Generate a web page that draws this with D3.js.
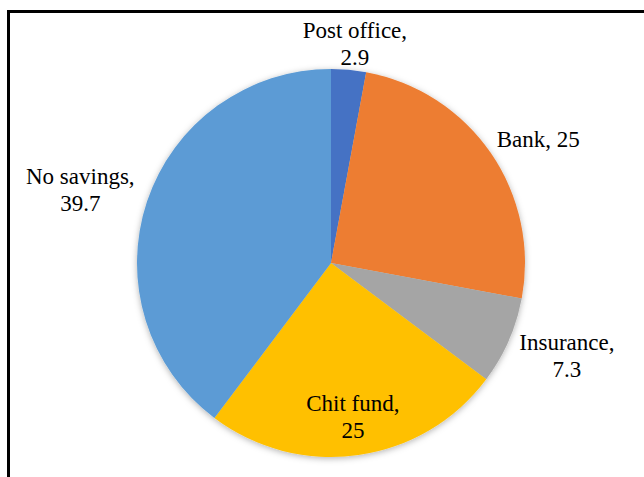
<!DOCTYPE html>
<html>
<head>
<meta charset="utf-8">
<script src="https://cdn.jsdelivr.net/npm/d3@7"></script>
<style>
  html, body { margin: 0; padding: 0; background: #fff; }
  svg { display: block; }
</style>
</head>
<body>
<svg id="chart" width="644" height="477"></svg>
<script>
// Savings channels (percent of households)
const categories = ["Post office", "Bank", "Insurance", "Chit fund", "No savings"];
const values = [2.9, 25, 7.3, 25, 39.7];
const valueLabels = ["2.9", "25", "7.3", "25", "39.7"];
const colors = ["#4472C4", "#ED7D31", "#A5A5A5", "#FFC000", "#5B9BD5"];

// Label placement choices
const insideLabels = new Set(["Chit fund"]);
const singleLineLabels = new Set(["Bank"]);

const W = 644, H = 477;
const cx = 331, cy = 263, R = 194;
const fontSize = 23, lineGap = 27, capH = 15;

const svg = d3.select("#chart");

// Frame: left and top rules
svg.append("path")
  .attr("d", `M8.5,${H} V11.5 H${W}`)
  .attr("fill", "none")
  .attr("stroke", "#000")
  .attr("stroke-width", 3);

// Soft shadow under the pie
const defs = svg.append("defs");
const f = defs.append("filter").attr("id", "pieShadow")
  .attr("x", "-10%").attr("y", "-10%").attr("width", "120%").attr("height", "120%");
f.append("feDropShadow")
  .attr("dx", 0).attr("dy", 1.5)
  .attr("stdDeviation", 3)
  .attr("flood-color", "#000")
  .attr("flood-opacity", 0.3);

const data = categories.map((c, i) => ({ name: c, value: values[i], label: valueLabels[i], color: colors[i] }));

const pie = d3.pie().value(d => d.value).sort(null);
const arcs = pie(data);
const arc = d3.arc().innerRadius(0).outerRadius(R);

const g = svg.append("g").attr("transform", `translate(${cx},${cy})`);

g.append("g").attr("filter", "url(#pieShadow)")
  .selectAll("path")
  .data(arcs)
  .join("path")
  .attr("d", arc)
  .attr("fill", d => d.data.color);

// Labels
const fontFamily = "'Liberation Serif', 'Times New Roman', serif";
const labelG = svg.append("g")
  .attr("font-family", fontFamily)
  .attr("font-size", fontSize)
  .attr("fill", "#000");

const measure = svg.append("text")
  .attr("font-family", fontFamily)
  .attr("font-size", fontSize)
  .attr("visibility", "hidden");
function textWidth(s) { measure.text(s); return measure.node().getComputedTextLength(); }

const insideArc = d3.arc().innerRadius(R * 0.8).outerRadius(R * 0.8);
const gap = 16;
const topLimit = 23;

arcs.forEach(a => {
  const d = a.data;
  const lines = singleLineLabels.has(d.name) ? [`${d.name}, ${d.label}`] : [`${d.name},`, d.label];
  const w = d3.max(lines, textWidth);
  const h = capH + lineGap * (lines.length - 1);
  const mid = (a.startAngle + a.endAngle) / 2;
  let vx, vy; // visual centre of the text block
  if (insideLabels.has(d.name)) {
    const [px, py] = insideArc.centroid(a);
    vx = cx + px; vy = cy + py;
  } else {
    const px = cx + (R + gap) * Math.sin(mid);
    const py = cy - (R + gap) * Math.cos(mid);
    vx = px + (w / 2) * Math.sin(mid);
    vy = py - (h / 2) * Math.cos(mid);
    if (vy - h / 2 < topLimit) vy = topLimit + h / 2;
  }
  const firstBase = vy - h / 2 + capH;
  const t = labelG.append("text").attr("text-anchor", "middle");
  lines.forEach((ln, i) => {
    t.append("tspan").attr("x", vx).attr("y", firstBase + i * lineGap).text(ln);
  });
});
measure.remove();
</script>
</body>
</html>
